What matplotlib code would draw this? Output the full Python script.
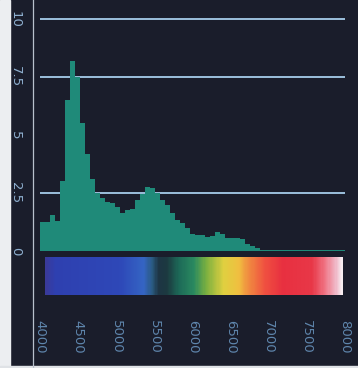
import numpy as np
import matplotlib.pyplot as plt
from matplotlib.colors import LinearSegmentedColormap
from matplotlib.patches import Rectangle
from matplotlib.lines import Line2D

# spectrum, one value per bin (wavelength 4000-8000)
wl_min, wl_max = 4000, 8000
intensity = [1.25, 1.25, 1.55, 1.3, 3.0, 6.5, 8.2, 7.5, 5.5, 4.2,
             3.1, 2.5, 2.3, 2.1, 2.05, 1.9, 1.65, 1.75, 1.8, 2.2,
             2.45, 2.75, 2.7, 2.5, 2.2, 2.0, 1.65, 1.35, 1.2, 1.0,
             0.75, 0.7, 0.7, 0.6, 0.65, 0.8, 0.75, 0.55, 0.55, 0.55,
             0.5, 0.3, 0.2, 0.12, 0.06, 0.06, 0.06, 0.06, 0.06, 0.06,
             0.06, 0.06, 0.06, 0.06, 0.06, 0.06, 0.06, 0.06, 0.06, 0.06,
             0.06]
y_ticks = [0, 2.5, 5, 7.5, 10]
y_labels = ["0", "2.5", "5", "7.5", "10"]
grid_levels = [2.5, 7.5, 10]
x_ticks = [4000, 4500, 5000, 5500, 6000, 6500, 7000, 7500, 8000]
x_labels = ["4000", "4500", "5000", "5500", "6000", "6500", "7000", "7500", "8000"]

# colour strip under the histogram
strip_pos = [0.0, 0.03, 0.25, 0.33, 0.36, 0.38, 0.41, 0.45, 0.5, 0.54,
             0.6, 0.65, 0.68, 0.74, 0.8, 0.9, 0.94, 0.98, 1.0]
strip_col = ["#3a3a9a", "#2f40b0", "#2e48b8", "#3565c4", "#2a5a80", "#1e3545",
             "#1c3a40", "#1d6a58", "#2a8a60", "#7ab040", "#e0d040", "#f0c040",
             "#f09040", "#f05040", "#e83040", "#e83848", "#f07080", "#f0b8c8",
             "#f8eef2"]

W, H = 358, 368
bg = "#1a1d2b"
fig = plt.figure(figsize=(W / 100, H / 100), dpi=100)
fig.patch.set_facecolor(bg)

# white margin at the left and bottom, thin rule beside the labels
fig.patches.append(Rectangle((0, 0), 10 / W, 1, transform=fig.transFigure,
                             color="#eceef1", zorder=0))
fig.patches.append(Rectangle((0, 0), 1, 2 / H, transform=fig.transFigure,
                             color="#dfe2e6", zorder=0))
fig.lines.append(Line2D([33 / W, 33 / W], [0, 1], transform=fig.transFigure,
                        color="#b8c0cc", lw=0.9))

px_per_unit = 23.2
top_px, base_px = 8, 251
ax = fig.add_axes([40 / W, (H - base_px) / H, 305 / W, (base_px - top_px) / H])
ax.set_facecolor(bg)
edges = np.linspace(wl_min, wl_max, len(intensity) + 1)
ax.bar(edges[:-1], intensity, width=np.diff(edges), align="edge",
       color="#1f8a79", zorder=2, linewidth=0)
for lev in grid_levels:
    ax.axhline(lev, color="#9cc0dc", lw=1.4, zorder=1)
ax.set_xlim(wl_min, wl_max)
ax.set_ylim(0, (base_px - top_px) / px_per_unit)
ax.set_yticks(y_ticks)
ax.set_yticklabels(y_labels, rotation=-90, va="center", color="#8fb0d0",
                   fontsize=9.5)
ax.tick_params(axis="y", length=0, pad=13)
ax.set_xticks([])
for s in ax.spines.values():
    s.set_visible(False)

# colour strip
ax2 = fig.add_axes([40 / W, (H - 295) / H, 305 / W, 38 / H])
ax2.set_facecolor(bg)
cmap = LinearSegmentedColormap.from_list("strip", list(zip(strip_pos, strip_col)))
ramp = np.linspace(0, 1, 300).reshape(1, -1)
x0 = wl_min + 5 / 305 * (wl_max - wl_min)
x1 = wl_min + 303 / 305 * (wl_max - wl_min)
ax2.imshow(ramp, cmap=cmap, aspect="auto", extent=(x0, x1, 0, 1))
ax2.set_xlim(wl_min, wl_max)
ax2.set_ylim(0, 1)
ax2.set_yticks([])
ax2.set_xticks(x_ticks)
ax2.set_xticklabels(x_labels, rotation=-90, color="#5f86ad", fontsize=9.5)
ax2.tick_params(axis="x", length=0, pad=18)
for s in ax2.spines.values():
    s.set_visible(False)

fig.savefig("out.png", dpi=100, facecolor=bg)
